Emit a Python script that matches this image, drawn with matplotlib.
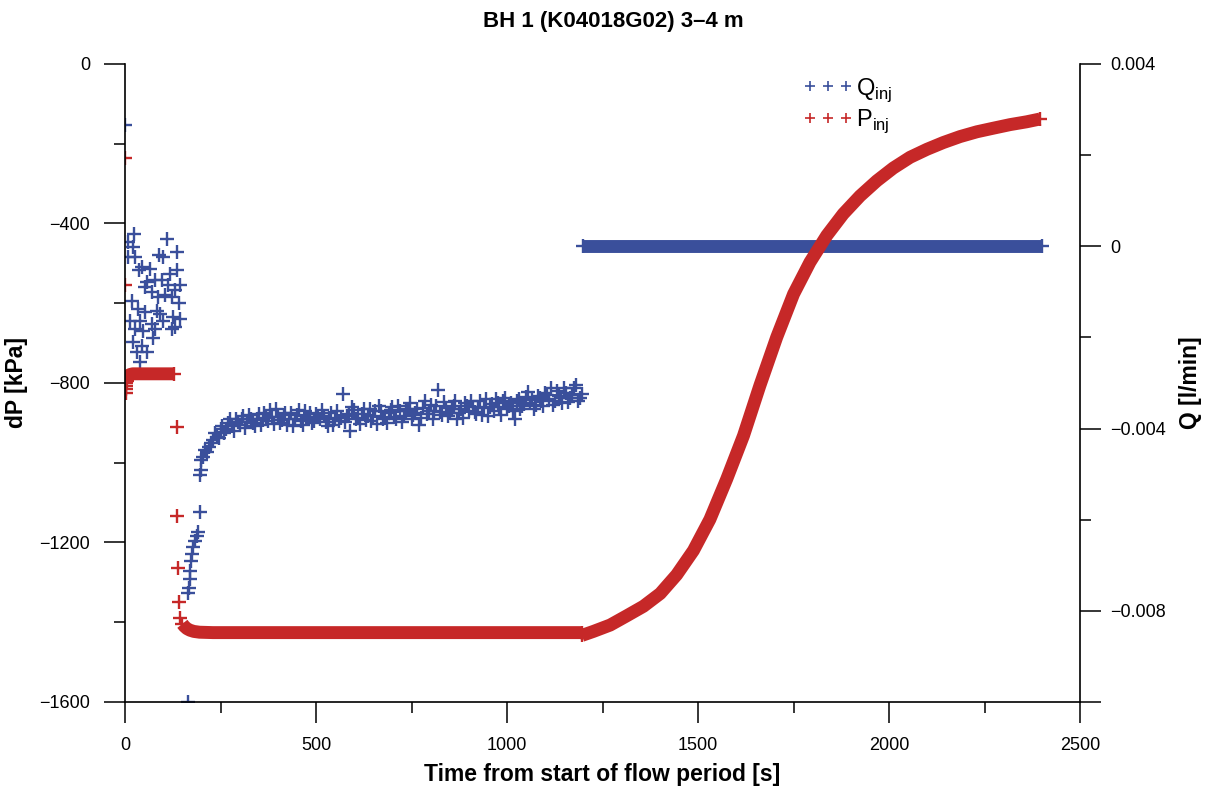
import numpy as np
import matplotlib
matplotlib.use("Agg")
import matplotlib.pyplot as plt
from matplotlib.lines import Line2D
from matplotlib.ticker import MultipleLocator, FixedLocator, FixedFormatter

plt.rcParams['font.family'] = ['Liberation Sans', 'DejaVu Sans']
plt.rcParams['axes.unicode_minus'] = True

BLUE = "#3A4F9B"
RED = "#C62828"

# ---- P_inj (dP, kPa) ----
p_spike_t = [0, 1, 1.5, 2, 2.5, 3]
p_spike = [-236, -554, -826, -816, -808, -800]

p_band1_t = [4, 8, 12, 20, 60, 100, 128]
p_band1 = [-795, -784, -779, -777, -777, -777, -777]

p_drop_t = [135, 137, 139, 141, 143]
p_drop = [-911, -1133, -1265, -1350, -1390]

p_band2_t = [150, 155, 162, 170, 180, 195, 230, 400, 800, 1195]
p_band2 = [-1404, -1410, -1416, -1420, -1423, -1425, -1426, -1426, -1426, -1426]

p_rec_t = [1196, 1226, 1270, 1313, 1357, 1401, 1444, 1488, 1531, 1575, 1619, 1662,
           1706, 1750, 1793, 1837, 1880, 1924, 1968, 2011, 2055, 2099, 2142, 2186,
           2230, 2273, 2317, 2360, 2395]
p_rec = [-1433, -1423, -1407, -1384, -1360, -1328, -1281, -1220, -1142, -1041, -932, -806,
         -685, -577, -497, -430, -376, -331, -293, -261, -234, -214, -197, -182,
         -170, -161, -152, -145, -138]

# ---- Q_inj (l/min) ----
q_early_t = [0, 23.6, 8.7, 20, 111, 137, 9, 26, 90, 99, 44, 64, 37, 118, 135, 57, 79, 96,
             113, 131, 144, 52, 70, 87, 105, 122, 17.5, 35, 52, 83, 92, 13, 39, 70, 100,
             126, 131, 26, 48, 79, 122, 22, 44, 31, 57, 39, 73, 141, 143]
q_early = [0.00266, 0.00028, 0.0001, -0.00002, 0.00017, -0.00013, -0.00024, -0.00024,
           -0.0002, -0.00024, -0.00046, -0.0005, -0.00053, -0.0006, -0.00053, -0.00078,
           -0.00075, -0.00075, -0.00086, -0.00097, -0.00086, -0.0009, -0.001, -0.00111,
           -0.00108, -0.00111, -0.00119, -0.00137, -0.00144, -0.00141, -0.00148, -0.00163,
           -0.00163, -0.0017, -0.00163, -0.00155, -0.00177, -0.00181, -0.00185, -0.00181,
           -0.00181, -0.0021, -0.00218, -0.00232, -0.00232, -0.00254, -0.00202, -0.00125,
           -0.00160]

q_ramp_t = [165, 166, 167, 170, 171, 172, 175, 179, 183, 188, 192, 195, 196, 198]
q_ramp = [-0.0100, -0.0076, -0.0075, -0.0073, -0.00712, -0.0069, -0.00675, -0.0066,
          -0.00646, -0.00635, -0.00628, -0.00582, -0.00502, -0.0049]

# noisy section, two interleaved sample sets (every 10 s, offset by 5 s)
q_noisy_t = np.arange(200, 1200, 10)
q_noisy = [-0.00470, -0.00448, -0.00441, -0.00425, -0.00418, -0.00402, -0.00410, -0.00388,
           -0.00395, -0.00380, -0.00392, -0.00372, -0.00385, -0.00378, -0.00395, -0.00368,
           -0.00382, -0.00376, -0.00360, -0.00390, -0.00374, -0.00382, -0.00366, -0.00378,
           -0.00395, -0.00370, -0.00384, -0.00362, -0.00375, -0.00388, -0.00368, -0.00380,
           -0.00372, -0.00395, -0.00365, -0.00378, -0.00384, -0.00325, -0.00372, -0.00405,
           -0.00360, -0.00376, -0.00368, -0.00382, -0.00358, -0.00372, -0.00390, -0.00362,
           -0.00376, -0.00366, -0.00352, -0.00380, -0.00362, -0.00372, -0.00358, -0.00378,
           -0.00365, -0.00392, -0.00355, -0.00368, -0.00348, -0.00362, -0.00315, -0.00370,
           -0.00354, -0.00366, -0.00350, -0.00380, -0.00358, -0.00345, -0.00362, -0.00352,
           -0.00368, -0.00340, -0.00355, -0.00372, -0.00346, -0.00335, -0.00352, -0.00340,
           -0.00358, -0.00345, -0.00378, -0.00336, -0.00350, -0.00330, -0.00344, -0.00356,
           -0.00328, -0.00340, -0.00322, -0.00336, -0.00348, -0.00318, -0.00334, -0.00310,
           -0.00342, -0.00326, -0.00305, -0.00332]
q_noisy2_t = np.arange(205, 1200, 10)
q_noisy2 = [-0.00462, -0.00452, -0.00432, -0.00410, -0.00420, -0.00395, -0.00402, -0.00380,
            -0.00405, -0.00386, -0.00378, -0.00398, -0.00370, -0.00388, -0.00380, -0.00392,
            -0.00366, -0.00384, -0.00374, -0.00358, -0.00388, -0.00370, -0.00392, -0.00365,
            -0.00380, -0.00360, -0.00392, -0.00378, -0.00366, -0.00384, -0.00374, -0.00360,
            -0.00386, -0.00376, -0.00392, -0.00362, -0.00376, -0.00385, -0.00368, -0.00352,
            -0.00380, -0.00390, -0.00358, -0.00372, -0.00384, -0.00362, -0.00350, -0.00378,
            -0.00388, -0.00360, -0.00374, -0.00350, -0.00385, -0.00362, -0.00345, -0.00370,
            -0.00356, -0.00376, -0.00340, -0.00362, -0.00378, -0.00350, -0.00364, -0.00342,
            -0.00372, -0.00358, -0.00340, -0.00366, -0.00376, -0.00350, -0.00340, -0.00364,
            -0.00352, -0.00370, -0.00336, -0.00352, -0.00362, -0.00345, -0.00370, -0.00332,
            -0.00350, -0.00362, -0.00340, -0.00356, -0.00346, -0.00320, -0.00338, -0.00348,
            -0.00334, -0.00350, -0.00326, -0.00312, -0.00340, -0.00328, -0.00345, -0.00322,
            -0.00334, -0.00312, -0.00340, -0.00324]

q_flat_t = [1200, 1400, 1600, 1800, 2000, 2200, 2400]
q_flat = [0, 0, 0, 0, 0, 0, 0]

MS = 9.5
MEW = 1.7
BAND = 9.3

fig = plt.figure(figsize=(12.13, 7.9), dpi=100)
ax = fig.add_axes([0.1031, 0.1114, 0.7873, 0.8076])
ax2 = ax.twinx()
ax.set_zorder(ax2.get_zorder() + 1)
ax.patch.set_visible(False)

# Q on right axis
for tt, qq in [(q_early_t, q_early), (q_ramp_t, q_ramp), (q_noisy_t, q_noisy), (q_noisy2_t, q_noisy2)]:
    ax2.plot(tt, qq, ls='none', marker='+', ms=MS, mew=MEW, color=BLUE)
ax2.plot(q_flat_t, q_flat, ls='-', lw=BAND, solid_capstyle='butt', color=BLUE)
ax2.plot([q_flat_t[0], q_flat_t[-1]], [q_flat[0], q_flat[-1]], ls='none', marker='+',
         ms=MS + 1, mew=MEW, color=BLUE)

# P on left axis
ax.plot(p_spike_t, p_spike, ls='none', marker='+', ms=MS, mew=MEW, color=RED)
ax.plot(p_drop_t, p_drop, ls='none', marker='+', ms=MS, mew=MEW, color=RED)
for tt, pp in [(p_band1_t, p_band1), (p_band2_t, p_band2), (p_rec_t, p_rec)]:
    ax.plot(tt, pp, ls='-', lw=BAND, solid_capstyle='butt', solid_joinstyle='round', color=RED)
    ax.plot([tt[0], tt[-1]], [pp[0], pp[-1]], ls='none', marker='+', ms=MS + 1, mew=MEW, color=RED)

ax.set_xlim(0, 2500)
ax.set_ylim(-1600, 0)
ax2.set_ylim(-0.010, 0.004)

ax.xaxis.set_major_locator(MultipleLocator(500))
ax.xaxis.set_minor_locator(MultipleLocator(250))
ax.yaxis.set_major_locator(MultipleLocator(400))
ax.yaxis.set_minor_locator(MultipleLocator(200))
ax2.yaxis.set_major_locator(FixedLocator([0.004, 0, -0.004, -0.008, -0.010]))
ax2.yaxis.set_major_formatter(FixedFormatter(["0.004", "0", "\u22120.004", "\u22120.008", ""]))
ax2.yaxis.set_minor_locator(FixedLocator([0.002, -0.002, -0.006]))

for a in (ax, ax2):
    a.spines['top'].set_visible(False)
    for s in a.spines.values():
        s.set_linewidth(1.2)
ax.spines['right'].set_visible(False)
ax2.spines['left'].set_visible(False)
ax2.spines['bottom'].set_visible(False)

ax.tick_params(axis='both', which='major', direction='out', length=15, width=1.1,
               labelsize=13, pad=10)
ax.tick_params(axis='both', which='minor', direction='out', length=8, width=1.1)
ax2.tick_params(axis='y', which='major', direction='out', length=15, width=1.1,
                labelsize=13, pad=7)
ax2.tick_params(axis='y', which='minor', direction='out', length=8, width=1.1)

ax.set_xlabel("Time from start of flow period [s]", fontsize=16.5, fontweight='bold', labelpad=7)
ax.set_ylabel("dP [kPa]", fontsize=16.5, fontweight='bold', labelpad=8)
ax2.set_ylabel("Q [l/min]", fontsize=16.5, fontweight='bold', labelpad=9)

fig.text(613 / 1213, 1 - 22 / 790, "BH 1 (K04018G02) 3\u20134 m", ha='center', va='center',
         fontsize=16, fontweight='bold')

handles = [
    Line2D([], [], ls='none', marker='+', ms=7.5, mew=1.2, color=BLUE),
    Line2D([], [], ls='none', marker='+', ms=7.5, mew=1.2, color=RED),
]
ax.legend(handles, [r"Q$_{\mathregular{inj}}$", r"P$_{\mathregular{inj}}$"],
          loc='upper left', bbox_to_anchor=(782 / 1213, 1 - 55 / 790),
          bbox_transform=fig.transFigure, frameon=False, numpoints=3,
          handlelength=2.1, handletextpad=0.15, fontsize=17, labelspacing=0.15)

fig.savefig("out.png", dpi=100)
